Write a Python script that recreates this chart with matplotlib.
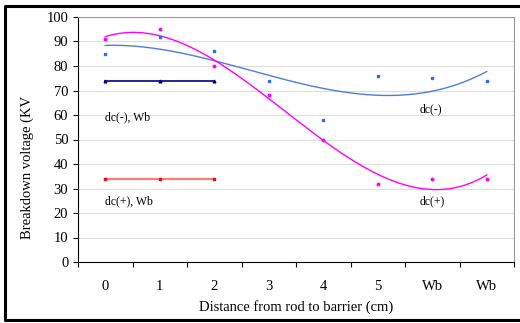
import numpy as np
import matplotlib
matplotlib.use("Agg")
import matplotlib.pyplot as plt
from matplotlib.lines import Line2D

categories = ["0", "1", "2", "3", "4", "5", "Wb", "Wb"]
dc_neg = [85, 92, 86, 74, 58, 76, 75, 74]
dc_pos = [91, 95, 80, 68, 50, 32, 34, 34]
dc_neg_wb = [74, 74, 74]
dc_pos_wb = [34, 34, 34]

plt.rcParams["font.family"] = ["Liberation Serif", "DejaVu Serif"]

W, H = 520, 323
fig = plt.figure(figsize=(W / 100, H / 100), dpi=100)
ax = fig.add_axes([78 / W, 1 - 262 / H, 436 / W, 245 / H])

x = np.arange(len(categories))

# trend lines (cubic fit, like the spreadsheet trendline)
xs = np.linspace(x[0], x[-1], 200)
fit_neg = np.polyval(np.polyfit(x, dc_neg, 3), xs)
fit_pos = np.polyval(np.polyfit(x, dc_pos, 3), xs)
ax.plot(xs, fit_neg, color="#4A7CE8", lw=1.0, zorder=3)
ax.plot(xs, fit_pos, color="#FF00FF", lw=1.0, zorder=3)

ax.plot(x, dc_neg, ls="none", marker="s", ms=2, color="#3366FF", zorder=4)
ax.plot(x, dc_pos, ls="none", marker="o", ms=1.8, color="#FF00FF", zorder=4)

xw = x[:len(dc_neg_wb)]
ax.plot(xw, dc_neg_wb, color="#000080", lw=1.2, marker="^", ms=2, zorder=4)
ax.plot(xw, dc_pos_wb, color="#FF7A7A", lw=1.6, marker="s", ms=1.8,
        mfc="#FF0000", mec="#FF0000", zorder=4)

ax.text(0, 59, "dc(-), Wb", fontsize=8.5, ha="left", va="center")
ax.text(5.77, 62.5, "dc(-)", fontsize=8.5, ha="left", va="center")
ax.text(0, 24.6, "dc(+), Wb", fontsize=8.5, ha="left", va="center")
ax.text(5.77, 24.6, "dc(+)", fontsize=8.5, ha="left", va="center")

ax.set_xlim(-0.5, len(categories) - 0.5)
ax.set_ylim(0, 100)
ax.set_yticks(range(0, 101, 10))
ax.set_xticks(x)
ax.set_xticklabels(categories, fontsize=10.5)
ax.set_xticks(np.arange(-0.5, len(categories), 1), minor=True)
ax.tick_params(axis="x", which="major", length=0, pad=13)
ax.tick_params(axis="x", which="minor", length=3.5, direction="out", width=0.8)
ax.tick_params(axis="y", labelsize=10.5, length=3.5, direction="out", width=0.8)
ax.yaxis.grid(True, color="#DDDDDD", lw=0.8)
ax.set_axisbelow(True)

for s in ["top", "right"]:
    ax.spines[s].set_color("#999999")
for s in ["left", "bottom"]:
    ax.spines[s].set_color("black")
    ax.spines[s].set_linewidth(0.8)

ax.set_xlabel("Distance from rod to barrier (cm)", fontsize=10.5)
ax.set_ylabel("Breakdown voltage (KV", fontsize=10.5)
ax.yaxis.set_label_coords(-0.102, 0.384)
ax.xaxis.set_label_coords(0.5, -0.155)

# outer frame (top, left, bottom)
fx = [W + 5, 5, 5, W + 5]
fy = [6, 6, 320, 320]
fig.lines.append(Line2D([v / W for v in fx], [1 - v / H for v in fy],
                        transform=fig.transFigure, color="black", lw=2.2))

fig.savefig("out.png", dpi=100)
